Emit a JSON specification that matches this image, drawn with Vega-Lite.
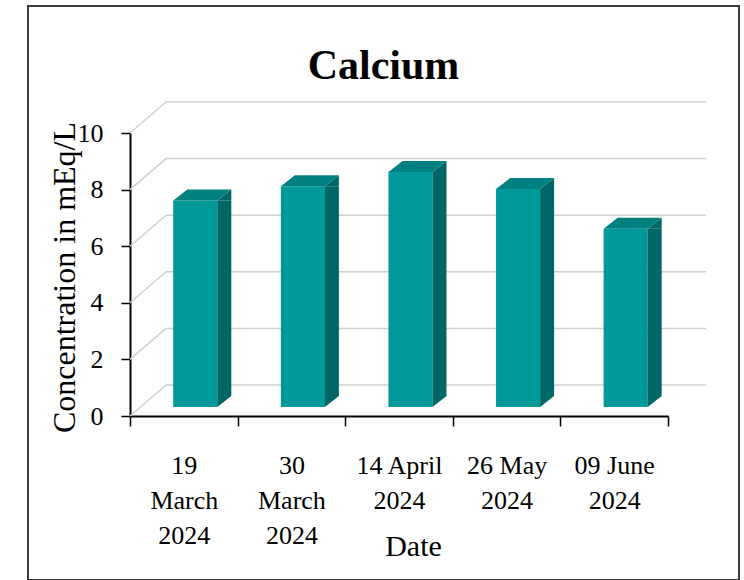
{
  "$schema": "https://vega.github.io/schema/vega-lite/v6.json",
  "autosize": {"type": "none"},
  "width": 711,
  "height": 574,
  "padding": {"left": 28, "top": 6, "right": 5, "bottom": 0},
  "background": "white",
  "config": {
    "view": {"stroke": "#3c3c3c", "strokeWidth": 2, "fill": "white"},
    "font": "Liberation Serif"
  },
  "title": {
    "text": "Calcium",
    "font": "Liberation Serif",
    "fontSize": 42,
    "fontWeight": "bold",
    "color": "black",
    "anchor": "middle",
    "frame": "group",
    "baseline": "alphabetic",
    "offset": -115
  },
  "datasets": {
    "calcium": [
      {"date": "19 March 2024", "ca": 7.3},
      {"date": "30 March 2024", "ca": 7.8},
      {"date": "14 April 2024", "ca": 8.3},
      {"date": "26 May 2024", "ca": 7.7},
      {"date": "09 June 2024", "ca": 6.3}
    ],
    "grid": [
      {"v": 0}, {"v": 2}, {"v": 4}, {"v": 6}, {"v": 8}, {"v": 10}
    ]
  },
  "layer": [
    {
      "data": {"name": "grid"},
      "mark": {"type": "rule", "color": "#d0d0d0", "strokeWidth": 1.5, "xOffset": 36, "x2Offset": 38, "yOffset": -31},
      "encoding": {
        "x": {
          "datum": "19 March 2024",
          "type": "nominal",
          "bandPosition": 0,
          "scale": {
            "type": "band",
            "domain": ["19 March 2024", "30 March 2024", "14 April 2024", "26 May 2024", "09 June 2024"],
            "range": [102, 640],
            "paddingInner": 0,
            "paddingOuter": 0
          },
          "axis": {
            "title": "Date",
            "orient": "bottom",
            "offset": -164,
            "grid": false,
            "tickBand": "extent",
            "tickSize": 10,
            "tickWidth": 1.5,
            "tickColor": "black",
            "domainColor": "black",
            "domainWidth": 2,
            "labelAngle": 0,
            "labelFont": "Liberation Serif",
            "labelFontSize": 26,
            "labelColor": "black",
            "labelAlign": "center",
            "labelBaseline": "top",
            "labelLineHeight": 35,
            "labelPadding": 26,
            "labelOverlap": false,
            "labelBound": false,
            "labelFlush": false,
            "labelExpr": "!isString(datum.value) ? '' : (indexof(datum.value, 'March') >= 0 ? split(datum.value, ' ') : [slice(datum.value, 0, -5), slice(datum.value, -4)])",
            "titleFont": "Liberation Serif",
            "titleFontSize": 30,
            "titleFontWeight": "normal",
            "titleColor": "black",
            "titleX": 385,
            "titleY": 139,
            "titleAlign": "center",
            "titleBaseline": "alphabetic"
          }
        },
        "x2": {"datum": "09 June 2024", "bandPosition": 1},
        "y": {
          "field": "v",
          "type": "quantitative",
          "scale": {"type": "linear", "domain": [0, 10], "range": [410, 127], "nice": false, "zero": true},
          "axis": {
            "title": "Concentration in mEq/L",
            "orient": "left",
            "offset": -102,
            "values": [0, 2, 4, 6, 8, 10],
            "format": "d",
            "grid": false,
            "tickSize": 9,
            "tickWidth": 1.5,
            "tickColor": "black",
            "domainColor": "black",
            "domainWidth": 2,
            "labelFont": "Liberation Serif",
            "labelFontSize": 26,
            "labelColor": "black",
            "labelPadding": 18,
            "titleFont": "Liberation Serif",
            "titleFontSize": 32,
            "titleFontWeight": "normal",
            "titleColor": "black",
            "titleAngle": 270,
            "titleX": -66,
            "titleY": 271,
            "titleAlign": "center",
            "titleBaseline": "middle"
          }
        }
      }
    },
    {
      "data": {"name": "grid"},
      "mark": {"type": "rule", "color": "#d0d0d0", "strokeWidth": 1.5, "x2Offset": 36, "y2Offset": -31},
      "encoding": {
        "x": {"datum": "19 March 2024", "type": "nominal", "bandPosition": 0},
        "x2": {"datum": "19 March 2024", "bandPosition": 0},
        "y": {"field": "v", "type": "quantitative"},
        "y2": {"field": "v"}
      }
    },
    {
      "data": {"name": "calcium"},
      "mark": {"type": "bar", "width": {"band": 0.41}, "color": "#009999", "xOffset": 11.5, "yOffset": -9, "y2Offset": -9},
      "encoding": {
        "x": {"field": "date", "type": "nominal"},
        "y": {"field": "ca", "type": "quantitative", "stack": null},
        "y2": {"datum": 0}
      }
    },
    {
      "data": {"name": "calcium"},
      "mark": {"type": "bar", "width": 14, "color": "#006666", "xOffset": 40.5, "yOffset": -9, "y2Offset": -20},
      "encoding": {
        "x": {"field": "date", "type": "nominal"},
        "y": {"field": "ca", "type": "quantitative", "stack": null},
        "y2": {"datum": 0}
      }
    },
    {
      "data": {"name": "calcium"},
      "mark": {"type": "point", "shape": "M-1,0.786L1,0.786L1,-0.786Z", "size": 196, "filled": true, "fill": "#006666", "opacity": 1, "strokeWidth": 0, "xOffset": 40.5, "yOffset": -14.5},
      "encoding": {
        "x": {"field": "date", "type": "nominal"},
        "y": {"field": "ca", "type": "quantitative"}
      }
    },
    {
      "data": {"name": "calcium"},
      "mark": {"type": "point", "shape": "M-1,-0.786L-1,0.786L1,-0.786Z", "size": 196, "filled": true, "fill": "#006666", "opacity": 1, "strokeWidth": 0, "xOffset": 40.5, "yOffset": -14.5},
      "encoding": {
        "x": {"field": "date", "type": "nominal"},
        "y": {"datum": 0, "type": "quantitative"}
      }
    },
    {
      "data": {"name": "calcium"},
      "mark": {"type": "point", "shape": "M-1,0.19L0.517,0.19L1,-0.19L-0.517,-0.19Z", "size": 3364, "filled": true, "fill": "#008080", "opacity": 1, "strokeWidth": 0, "xOffset": 18.5, "yOffset": -14.5},
      "encoding": {
        "x": {"field": "date", "type": "nominal"},
        "y": {"field": "ca", "type": "quantitative"}
      }
    }
  ]
}
